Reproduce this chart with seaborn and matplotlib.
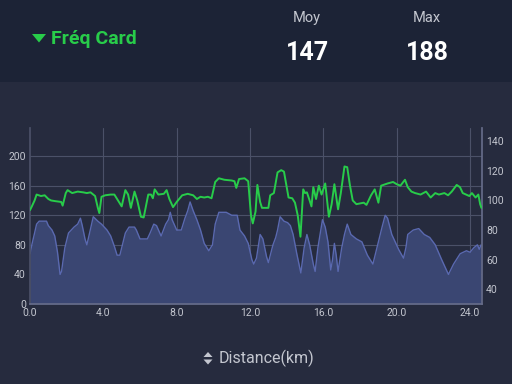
import matplotlib
matplotlib.use("Agg")
import matplotlib.pyplot as plt
import seaborn as sns
import pandas as pd
from matplotlib.patches import Rectangle, Polygon

# ---- data ----
hr_km = [0.0, 0.1, 0.25, 0.36, 0.6, 0.8, 1.0, 1.15, 1.4, 1.7, 1.78, 1.95, 2.05, 2.3, 2.6, 2.9,
         3.1, 3.3, 3.4, 3.55, 3.7, 3.78, 3.9, 4.1, 4.4, 4.6, 4.8, 5.0, 5.2, 5.35, 5.5, 5.7,
         5.85, 6.05, 6.2, 6.45, 6.6, 6.7, 6.8, 7.0, 7.3, 7.45, 7.6, 7.8, 8.0, 8.3, 8.6, 8.9,
         9.1, 9.3, 9.5, 9.7, 9.9, 10.1, 10.3, 10.6, 11.0, 11.15, 11.25, 11.4, 11.7, 11.9,
         12.05, 12.15, 12.3, 12.4, 12.55, 12.65, 13.0, 13.1, 13.3, 13.5, 13.7, 13.85, 14.1,
         14.3, 14.45, 14.6, 14.75, 14.9, 15.0, 15.1, 15.25, 15.35, 15.45, 15.6, 15.75, 15.9,
         16.1, 16.3, 16.45, 16.6, 16.8, 16.95, 17.15, 17.3, 17.45, 17.6, 17.8, 18.2, 18.35,
         18.6, 18.8, 19.0, 19.15, 19.5, 19.8, 20.0, 20.2, 20.45, 20.6, 20.8, 21.0, 21.3, 21.6,
         21.85, 22.1, 22.3, 22.6, 22.8, 23.0, 23.27, 23.45, 23.6, 23.96, 24.1, 24.3, 24.45,
         24.55, 24.62]
hr_bpm = [127, 132, 140, 148, 146, 147, 142, 140, 139, 138, 133, 150, 154, 150, 152, 151,
          150, 151, 149, 146, 130, 123, 145, 147, 148, 148, 140, 132, 154, 148, 130, 152,
          140, 118, 117, 148, 148, 143, 155, 148, 149, 154, 142, 131, 138, 147, 149, 147,
          142, 145, 144, 145, 143, 165, 170, 168, 167, 166, 157, 169, 170, 166,
          120, 109, 125, 161, 138, 130, 130, 147, 150, 178, 181, 179, 144,
          143, 137, 120, 91, 155, 150, 151, 140, 132, 158, 142, 160, 148,
          163, 118, 135, 162, 128, 150, 186, 185, 160, 140, 135, 137, 134,
          147, 155, 137, 160, 163, 165, 162, 160, 168, 158, 152, 150, 148, 152,
          144, 150, 148, 150, 147, 152, 161, 158, 150, 146, 150, 144, 148,
          135, 130]

elev_km = [0.0, 0.1, 0.25, 0.36, 0.5, 0.9, 1.0, 1.2, 1.35, 1.5, 1.64, 1.72, 1.9, 2.1, 2.4,
           2.6, 2.75, 2.85, 3.0, 3.1, 3.25, 3.45, 3.7, 3.9, 4.2, 4.4, 4.6, 4.75, 4.9, 5.2,
           5.4, 5.7, 5.8, 6.0, 6.4, 6.55, 6.75, 6.9, 7.15, 7.4, 7.55, 7.65, 7.75, 8.0, 8.25,
           8.45, 8.6, 8.73, 8.9, 9.1, 9.3, 9.5, 9.75, 9.95, 10.1, 10.3, 10.7, 11.0, 11.3,
           11.45, 11.7, 11.9, 12.1, 12.2, 12.35, 12.55, 12.7, 12.9, 13.0, 13.25, 13.4, 13.5,
           13.64, 13.85, 14.05, 14.2, 14.35, 14.55, 14.77, 14.95, 15.1, 15.25, 15.45, 15.55,
           15.7, 15.95, 16.1, 16.25, 16.4, 16.5, 16.6, 16.7, 16.8, 17.0, 17.15, 17.3, 17.5,
           17.8, 18.1, 18.4, 18.7, 19.0, 19.2, 19.37, 19.5, 19.73, 20.1, 20.37, 20.5, 20.6,
           20.9, 21.2, 21.5, 21.8, 22.1, 22.45, 22.82, 23.1, 23.46, 23.8, 24.0, 24.2, 24.4,
           24.5, 24.6]
elev_m = [64, 70, 78, 84, 86, 86, 83, 80, 76, 65, 50, 52, 68, 78, 82,
          84, 88, 83, 74, 70, 78, 89, 86, 84, 80, 76, 69, 63, 63, 78,
          82, 82, 80, 74, 74, 78, 84, 83, 76, 84, 87, 92, 87, 80, 80,
          88, 93, 99, 93, 87, 80, 71, 66, 70, 84, 92, 92, 90, 90,
          80, 76, 71, 60, 57, 61, 77, 74, 62, 58, 70, 75, 80,
          89, 86, 85, 83, 77, 64, 51, 68, 77, 70, 57, 52,
          68, 87, 82, 72, 53, 60, 71, 63, 52, 68, 77, 84, 77,
          74, 72, 63, 57, 72, 82, 90, 88, 77, 67, 61, 68, 77,
          80, 81, 77, 75, 70, 60, 50, 57, 64, 66, 65, 68, 70,
          67, 70]

x_ticks = [0, 4, 8, 12, 16, 20, 24]
left_ticks = [0, 40, 80, 120, 160, 200]
right_ticks = [40, 60, 80, 100, 120, 140]

hr_df = pd.DataFrame({"km": hr_km, "bpm": hr_bpm})
el_df = pd.DataFrame({"km": elev_km, "m": elev_m})

# ---- style ----
BG = "#262b3e"
HEAD = "#1c2336"
GRID = "#4b5168"
TXT = "#c3c6cf"
GREEN = "#28cc4a"
BLUE_LINE = "#5a69b0"
BLUE_FILL = "#3a4672"

sns.set_theme(style="dark")
plt.rcParams["font.family"] = ["Roboto", "DejaVu Sans"]

fig = plt.figure(figsize=(5.12, 3.84), dpi=100, facecolor=BG)
fig.patches.append(Rectangle((0, 0.786), 1, 0.214, transform=fig.transFigure,
                             facecolor=HEAD, edgecolor="none", zorder=0))


def px_poly(pts, color):
    """Polygon given in pixel coordinates (origin top-left)."""
    fig.patches.append(Polygon([(x / 512, 1 - y / 384) for x, y in pts], closed=True,
                               transform=fig.transFigure, facecolor=color,
                               edgecolor="none", zorder=3))


ax = fig.add_axes([30 / 512, 80 / 384, 452 / 512, 176 / 384])
ax.set_facecolor(BG)
ax2 = ax.twinx()

# elevation area (right axis)
ax2.fill_between(el_df["km"], 30, el_df["m"], color=BLUE_FILL, lw=0, zorder=1)
sns.lineplot(data=el_df, x="km", y="m", ax=ax2, color=BLUE_LINE, lw=1.0,
             sort=False, estimator=None, zorder=2)

# heart rate (left axis) drawn on top
ax.set_zorder(ax2.get_zorder() + 1)
ax.patch.set_visible(False)
sns.lineplot(data=hr_df, x="km", y="bpm", ax=ax, color=GREEN, lw=1.4,
             sort=False, estimator=None, zorder=3)

ax.set_xlim(0, 24.65)
ax.set_ylim(0, 238)
ax2.set_ylim(30, 149)

ax.set_xticks(x_ticks)
ax.set_xticklabels([f"{v:.1f}" for v in x_ticks])
ax.set_yticks(left_ticks)
ax2.set_yticks(right_ticks)

ax.grid(False)
ax2.grid(False)
for v in x_ticks[1:]:
    ax2.axvline(v, color=GRID, lw=0.8, zorder=0.5)
for v in left_ticks[1:]:
    ax2.axhline(v / 2 + 30, color=GRID, lw=0.8, zorder=0.5)

for a in (ax, ax2):
    a.set_xlabel("")
    a.set_ylabel("")
    a.tick_params(length=0, colors=TXT, labelsize=7.5, pad=3)
    for s in a.spines.values():
        s.set_visible(False)
ax2.spines["left"].set_visible(True)
ax2.spines["left"].set_color(GRID)
ax2.spines["bottom"].set_visible(True)
ax2.spines["bottom"].set_color("#656b88")
ax2.spines["right"].set_visible(True)
ax2.spines["right"].set_color("#656b88")

# ---- header ----
px_poly([(32, 34), (46, 34), (39, 42.5)], GREEN)
fig.text(51 / 512, 1 - 39 / 384, "Fréq Card", color=GREEN, fontsize=14,
         fontweight="bold", ha="left", va="center")
fig.text(307 / 512, 1 - 18 / 384, "Moy", color=TXT, fontsize=10.5, ha="center", va="center")
fig.text(427 / 512, 1 - 18 / 384, "Max", color=TXT, fontsize=10.5, ha="center", va="center")
fig.text(307 / 512, 1 - 53 / 384, "147", color="white", fontsize=18,
         fontweight="bold", ha="center", va="center")
fig.text(427 / 512, 1 - 53 / 384, "188", color="white", fontsize=18,
         fontweight="bold", ha="center", va="center")

# ---- x-axis title ----
px_poly([(203.5, 357), (212.5, 357), (208, 352)], TXT)
px_poly([(203.5, 359.5), (212.5, 359.5), (208, 364.5)], TXT)
fig.text(219 / 512, 1 - 358 / 384, "Distance(km)", color=TXT, fontsize=11.5,
         ha="left", va="center")

fig.savefig("out.png", dpi=100, facecolor=BG)
